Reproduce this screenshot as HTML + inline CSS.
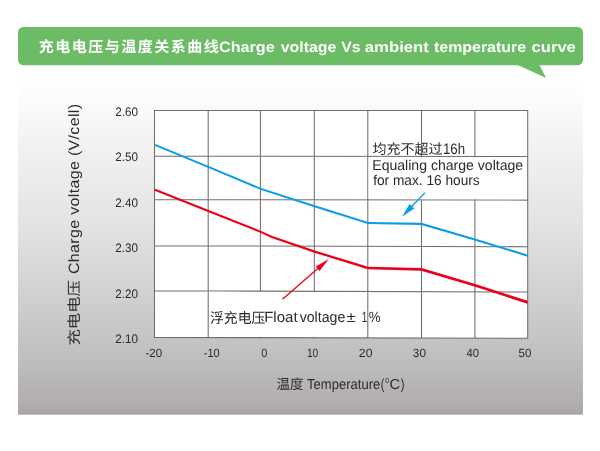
<!DOCTYPE html>
<html lang="zh"><head><meta charset="utf-8"><title>Charge voltage Vs ambient temperature curve</title>
<style>html,body{margin:0;padding:0;background:#fff;width:600px;height:451px;overflow:hidden;font-family:"Liberation Sans",sans-serif}svg{display:block;will-change:transform}</style></head>
<body>
<svg width="600" height="451" viewBox="0 0 600 451" font-family="'Liberation Sans', 'Noto Sans CJK SC', sans-serif" text-rendering="geometricPrecision">
<defs><linearGradient id="pv" x1="0" y1="0" x2="0" y2="1"><stop offset="0.0000" stop-color="#fefefe"/><stop offset="0.0569" stop-color="#fcfcfc"/><stop offset="0.1468" stop-color="#f5f5f5"/><stop offset="0.2667" stop-color="#ededed"/><stop offset="0.4315" stop-color="#e3e3e3"/><stop offset="0.5064" stop-color="#dcdcdc"/><stop offset="0.6563" stop-color="#cfcfcf"/><stop offset="0.7462" stop-color="#c7c7c7"/><stop offset="0.8361" stop-color="#bfbebe"/><stop offset="0.9110" stop-color="#b7b4b4"/><stop offset="0.9709" stop-color="#b1adad"/><stop offset="0.9994" stop-color="#a7a4a4"/></linearGradient></defs>
<rect x="18" y="81" width="565" height="333.7" fill="url(#pv)"/>
<rect x="18" y="27" width="565" height="38.3" rx="5.5" fill="#6bbc65"/>
<path d="M515.5 64 L538.9 64 L546.2 78 Z" fill="#6bbc65"/>
<text x="38.70" y="52.40" font-size="15" font-weight="bold" textLength="180" lengthAdjust="spacing" fill="#fff" font-family="'Liberation Sans', 'Noto Sans CJK SC', sans-serif">充电电压与温度关系曲线</text>
<text x="219.04" y="52.30" font-size="14.9" font-weight="bold" textLength="55.72" lengthAdjust="spacingAndGlyphs" fill="#fff">Charge</text>
<text x="280.74" y="52.30" font-size="14.9" font-weight="bold" textLength="55.60" lengthAdjust="spacingAndGlyphs" fill="#fff">voltage</text>
<text x="341.19" y="52.30" font-size="14.9" font-weight="bold" textLength="19.25" lengthAdjust="spacingAndGlyphs" fill="#fff">Vs</text>
<text x="364.81" y="52.30" font-size="14.9" font-weight="bold" textLength="64.09" lengthAdjust="spacingAndGlyphs" fill="#fff">ambient</text>
<text x="434.01" y="52.30" font-size="14.9" font-weight="bold" textLength="92.04" lengthAdjust="spacingAndGlyphs" fill="#fff">temperature</text>
<text x="531.55" y="52.30" font-size="14.9" font-weight="bold" textLength="44.32" lengthAdjust="spacingAndGlyphs" fill="#fff">curve</text>
<path d="M154.5 110.4L527.7 110.5L527.7 338.3L154.5 337.4Z" fill="#fff"/>
<path d="M154.5 109.90L154.5 337.90M208.2 109.91L208.2 338.03M260.4 109.93L260.4 338.16M314.3 109.94L314.3 338.29M367.8 109.96L367.8 338.41M421.5 109.97L421.5 338.54M474.9 109.99L474.9 338.67M527.7 110.00L527.7 338.80M154.0 110.4L528.2 110.5M154.0 156.1L528.2 156.5M154.0 199.5L528.2 200.1M154.0 245.7L528.2 246.7M154.0 290.8L528.2 292.0M154.0 337.4L528.2 338.3" stroke="#706d6d" stroke-width="1.05" fill="none"/>
<path d="M368.6 157.13L526.9000000000001 157.30L526.9000000000001 199.30L368.6 199.04Z" fill="#fff"/>
<path d="M209.0 291.77L367.0 292.29L367.0 337.11L209.0 336.73Z" fill="#fff"/>
<path d="M154.62 145.72L207.92 167.72L260.45 189.84L314.30 207.25L367.73 224.04L421.24 224.94L474.51 240.46L527.41 256.66L527.99 254.74L475.09 238.54L421.56 222.86L368.07 221.96L314.90 205.35L261.15 187.96L208.68 165.88L155.38 143.88Z" fill="#0a9cea"/>
<path d="M154.63 190.63L207.93 211.93L260.39 232.87L271.59 238.02L314.26 252.65L367.70 269.23L421.18 270.68L474.40 286.49L527.27 303.63L528.13 300.97L475.20 283.91L421.62 267.92L368.10 266.77L314.94 250.55L272.41 235.98L261.21 230.93L208.67 210.07L155.37 188.77Z" fill="#ec0018"/>
<path d="M424.9 192.7L411.2 207.0" stroke="#0a9cea" stroke-width="1.3" fill="none"/><path d="M401.9 216.7L409.6 203.9L414.3 208.5Z" fill="#0a9cea"/>
<path d="M282.5 299.2L318.4 268.1" stroke="#ec0018" stroke-width="1.3" fill="none"/><path d="M328.8 259.1L319.6 270.9L315.8 266.6Z" fill="#ec0018"/>
<text x="115.21" y="116.10" font-size="12.4" textLength="22.74" lengthAdjust="spacingAndGlyphs" fill="#2d2a2a">2.60</text>
<text x="115.21" y="161.45" font-size="12.4" textLength="22.74" lengthAdjust="spacingAndGlyphs" fill="#2d2a2a">2.50</text>
<text x="115.21" y="206.80" font-size="12.4" textLength="22.74" lengthAdjust="spacingAndGlyphs" fill="#2d2a2a">2.40</text>
<text x="115.21" y="252.15" font-size="12.4" textLength="22.74" lengthAdjust="spacingAndGlyphs" fill="#2d2a2a">2.30</text>
<text x="115.21" y="297.50" font-size="12.4" textLength="22.74" lengthAdjust="spacingAndGlyphs" fill="#2d2a2a">2.20</text>
<text x="115.21" y="342.80" font-size="12.4" textLength="22.74" lengthAdjust="spacingAndGlyphs" fill="#2d2a2a">2.10</text>
<text x="145.49" y="357.40" font-size="12.0" textLength="16.66" lengthAdjust="spacingAndGlyphs" fill="#2d2a2a">-20</text>
<text x="203.81" y="357.40" font-size="12.0" textLength="15.92" lengthAdjust="spacingAndGlyphs" fill="#2d2a2a">-10</text>
<text x="261.28" y="357.40" font-size="12.0" textLength="6.05" lengthAdjust="spacingAndGlyphs" fill="#2d2a2a">0</text>
<text x="306.92" y="357.40" font-size="12.0" textLength="11.38" lengthAdjust="spacingAndGlyphs" fill="#2d2a2a">10</text>
<text x="358.89" y="357.40" font-size="12.0" textLength="13.59" lengthAdjust="spacingAndGlyphs" fill="#2d2a2a">20</text>
<text x="412.85" y="357.40" font-size="12.0" textLength="13.11" lengthAdjust="spacingAndGlyphs" fill="#2d2a2a">30</text>
<text x="466.44" y="357.40" font-size="12.0" textLength="12.50" lengthAdjust="spacingAndGlyphs" fill="#2d2a2a">40</text>
<text x="518.54" y="357.40" font-size="12.0" textLength="12.81" lengthAdjust="spacingAndGlyphs" fill="#2d2a2a">50</text>
<text x="276.40" y="388.60" font-size="13.7" textLength="27.2" lengthAdjust="spacingAndGlyphs" fill="#2d2a2a" font-family="'Liberation Sans', 'Noto Sans CJK SC', sans-serif">温度</text>
<text x="307.11" y="388.50" font-size="14.4" textLength="73.15" lengthAdjust="spacingAndGlyphs" fill="#2d2a2a">Temperature</text>
<text x="380.85" y="388.50" font-size="14.4" textLength="3.52" lengthAdjust="spacingAndGlyphs" fill="#2d2a2a">(</text>
<text x="385.23" y="382.70" font-size="7.6" textLength="3.84" lengthAdjust="spacingAndGlyphs" fill="#2d2a2a">0</text>
<text x="389.45" y="388.50" font-size="14.4" textLength="10.61" lengthAdjust="spacingAndGlyphs" fill="#2d2a2a">C</text>
<text x="400.83" y="388.50" font-size="14.4" textLength="3.77" lengthAdjust="spacingAndGlyphs" fill="#2d2a2a">)</text>
<g transform="translate(78.5 345.6) rotate(-90)"><text x="0" y="0" font-size="14" textLength="65.5" lengthAdjust="spacingAndGlyphs" fill="#2d2a2a" font-family="'Liberation Sans', 'Noto Sans CJK SC', sans-serif">充电电压</text></g>
<g transform="translate(78.5 274.0) rotate(-90) scale(1 0.93)"><text x="0.00" y="0.00" font-size="16" textLength="170.00" lengthAdjust="spacing" fill="#2d2a2a">Charge voltage (V/cell)</text></g>
<text x="372.60" y="153.50" font-size="14" textLength="70" lengthAdjust="spacingAndGlyphs" fill="#2d2a2a" font-family="'Liberation Sans', 'Noto Sans CJK SC', sans-serif">均充不超过</text>
<text x="442.89" y="153.70" font-size="15.2" textLength="22.18" lengthAdjust="spacingAndGlyphs" fill="#2d2a2a">16h</text>
<text x="372.25" y="170.30" font-size="14.2" textLength="150.88" lengthAdjust="spacingAndGlyphs" fill="#2d2a2a">Equaling charge voltage</text>
<text x="373.21" y="185.00" font-size="14.2" textLength="106.49" lengthAdjust="spacingAndGlyphs" fill="#2d2a2a">for max. 16 hours</text>
<text x="209.90" y="322.90" font-size="14.3" textLength="55.5" lengthAdjust="spacingAndGlyphs" fill="#2d2a2a" font-family="'Liberation Sans', 'Noto Sans CJK SC', sans-serif">浮充电压</text>
<text x="264.17" y="322.40" font-size="14.9" textLength="33.44" lengthAdjust="spacingAndGlyphs" fill="#2d2a2a">Float</text>
<text x="299.65" y="322.40" font-size="14.9" textLength="45.68" lengthAdjust="spacingAndGlyphs" fill="#2d2a2a">voltage</text>
<text x="346.60" y="322.40" font-size="14.9" textLength="9.2" lengthAdjust="spacingAndGlyphs" fill="#2d2a2a">±</text>
<text x="361.74" y="322.40" font-size="14.9" textLength="5.55" lengthAdjust="spacingAndGlyphs" fill="#2d2a2a">1</text>
<text x="368.73" y="322.40" font-size="14.9" textLength="11.74" lengthAdjust="spacingAndGlyphs" fill="#2d2a2a">%</text>
</svg>
</body></html>
